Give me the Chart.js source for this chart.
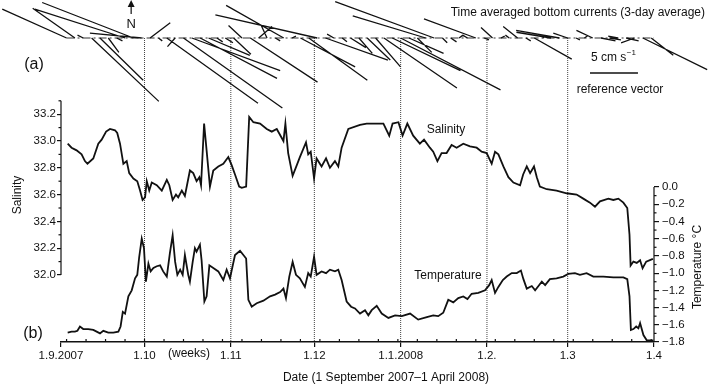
<!DOCTYPE html>
<html>
<head>
<meta charset="utf-8">
<script src="https://cdn.jsdelivr.net/npm/chart.js@4.4.0/dist/chart.umd.min.js"></script>
<style>
  html, body { margin: 0; padding: 0; background: #fff; }
</style>
</head>
<body>
<canvas id="myChart" width="708" height="384"></canvas>
<script>
/* data */

// x axis: days since 1 September 2007
const monthDays = [0, 30, 61, 91, 122, 153, 182, 213];
const monthLabels = ['1.9.2007', '1.10', '1.11', '1.12', '1.1.2008', '1.2.', '1.3', '1.4'];

const salTicks = [32.0, 32.2, 32.4, 32.6, 32.8, 33.0, 33.2];
const tempTicks = [-1.8, -1.6, -1.4, -1.2, -1.0, -0.8, -0.6, -0.4, -0.2, 0.0];

const salDays = [2.4, 3.8, 5.6, 7.4, 8.6, 9.5, 11.6, 13.4, 14.6, 16.2, 17.6, 19.4, 20.2, 21.2, 22.4, 23.6,
  24.5, 26.0, 27.4, 28.4, 29.3, 30.2, 30.8, 31.7, 32.6, 34.4, 36.2, 38.0, 38.9, 40.1, 41.3, 42.1, 43.4,
  44.5, 46.3, 47.5, 48.7, 49.7, 50.3, 51.4, 52.3, 53.5, 54.7, 56.5, 58.3, 60.1, 61.3, 62.5, 64.0, 64.9,
  66.5, 67.6, 69.1, 71.5, 73.9, 75.7, 77.5, 79.9, 80.6, 81.6, 83.2, 84.7, 85.8, 88.0, 88.8, 89.7, 90.9,
  91.8, 93.6, 95.2, 96.6, 98.4, 99.6, 100.8, 103.2, 107.4, 109.8, 112.2, 115.8, 117.9, 119.1, 121.2,
  122.7, 124.4, 126.5, 128.9, 130.4, 132.5, 133.7, 135.2, 136.7, 138.5, 140.3, 142.1, 144.5, 146.9,
  149.3, 151.1, 152.9, 154.7, 155.9, 157.1, 158.9, 160.7, 162.5, 164.9, 166.0, 167.3, 168.5, 169.9,
  170.9, 172.0, 174.5, 178.0, 181.6, 185.2, 187.6, 190.0, 191.8, 193.6, 196.6, 198.4, 200.2, 202.0,
  203.4, 204.2, 204.6, 205.6, 206.8, 208.0, 208.9, 210.2, 212.6];
const salVals = [32.98, 32.95, 32.93, 32.90, 32.85, 32.83, 32.87, 32.98, 33.01, 33.07, 33.09, 33.08, 33.06,
  32.98, 32.83, 32.85, 32.76, 32.72, 32.70, 32.63, 32.56, 32.58, 32.70, 32.63, 32.69, 32.67, 32.63, 32.71,
  32.67, 32.56, 32.60, 32.58, 32.63, 32.59, 32.78, 32.76, 32.70, 32.73, 32.67, 33.13, 32.93, 32.66, 32.78,
  32.81, 32.83, 32.88, 32.82, 32.75, 32.66, 32.65, 32.66, 33.18, 33.14, 33.13, 33.09, 33.07, 33.09, 33.00,
  33.13, 32.91, 32.74, 32.82, 32.88, 32.99, 32.90, 32.92, 32.72, 32.87, 32.81, 32.87, 32.80, 32.85, 32.81,
  32.95, 33.09, 33.12, 33.13, 33.13, 33.13, 33.04, 33.13, 33.14, 33.04, 33.13, 33.04, 32.98, 33.01, 32.95,
  32.92, 32.85, 32.91, 32.91, 32.97, 32.95, 32.98, 32.96, 32.95, 32.92, 32.91, 32.83, 32.92, 32.90, 32.81,
  32.73, 32.69, 32.67, 32.75, 32.81, 32.76, 32.81, 32.73, 32.66, 32.64, 32.63, 32.61, 32.60, 32.57, 32.54,
  32.51, 32.55, 32.57, 32.56, 32.57, 32.54, 32.50, 32.30, 32.07, 32.10, 32.09, 32.11, 32.05, 32.10, 32.12];

const tempDays = [2.4, 3.8, 5.0, 5.9, 6.8, 8.0, 9.8, 11.6, 12.8, 14.0, 15.2, 17.0, 18.8, 20.6, 21.4, 22.2,
  23.0, 24.2, 25.4, 26.6, 27.4, 28.1, 29.0, 29.8, 30.5, 31.4, 32.2, 33.2, 34.4, 35.6, 36.7, 38.0, 39.1,
  40.1, 41.0, 41.8, 42.8, 43.7, 44.5, 45.7, 46.3, 47.3, 48.1, 48.7, 49.9, 50.5, 51.5, 52.3, 53.3, 54.7,
  56.5, 58.3, 59.5, 60.7, 62.5, 64.3, 66.5, 67.3, 68.5, 70.3, 72.7, 75.1, 76.9, 78.7, 79.9, 80.8, 82.0,
  83.2, 84.4, 85.8, 87.6, 88.8, 89.7, 90.9, 91.8, 93.6, 95.2, 96.6, 98.4, 99.6, 100.8, 102.6, 104.2,
  105.6, 107.4, 109.2, 110.4, 111.6, 113.4, 115.2, 117.6, 120.0, 122.4, 125.4, 128.3, 131.4, 133.7,
  135.5, 137.3, 139.1, 140.9, 142.7, 144.5, 146.0, 147.5, 149.9, 152.3, 153.8, 154.7, 155.9, 157.1,
  158.7, 160.1, 161.9, 163.7, 165.2, 166.1, 167.3, 169.1, 170.3, 171.5, 172.7, 173.9, 175.6, 178.0,
  180.4, 182.2, 184.6, 186.4, 188.8, 191.2, 194.8, 198.4, 202.0, 203.4, 204.2, 204.7, 205.6, 206.6,
  207.4, 208.0, 209.2, 210.4, 212.8];
const tempVals = [-1.69, -1.68, -1.68, -1.67, -1.62, -1.65, -1.65, -1.66, -1.68, -1.70, -1.67, -1.69, -1.69,
  -1.68, -1.62, -1.45, -1.47, -1.27, -1.20, -1.06, -1.02, -0.81, -0.60, -0.71, -1.10, -0.89, -0.98, -0.94,
  -0.92, -0.91, -0.98, -1.04, -0.77, -0.56, -0.87, -1.02, -0.96, -1.02, -0.79, -1.02, -1.10, -0.87, -0.71,
  -0.75, -0.67, -0.85, -1.33, -1.27, -0.91, -0.94, -0.98, -1.08, -0.96, -1.06, -0.79, -0.74, -0.83, -1.31,
  -1.39, -1.35, -1.32, -1.27, -1.25, -1.22, -1.18, -1.29, -1.04, -0.87, -1.02, -1.06, -1.16, -1.00, -1.04,
  -0.81, -1.02, -0.98, -1.00, -0.96, -0.98, -0.96, -1.08, -1.33, -1.39, -1.41, -1.47, -1.43, -1.49, -1.43,
  -1.38, -1.47, -1.52, -1.49, -1.50, -1.47, -1.54, -1.51, -1.49, -1.50, -1.46, -1.31, -1.34, -1.29, -1.27,
  -1.30, -1.24, -1.23, -1.20, -1.14, -1.08, -1.23, -1.16, -1.08, -1.04, -1.00, -1.00, -0.97, -1.07, -1.18,
  -1.15, -1.20, -1.15, -1.10, -1.14, -1.07, -1.06, -1.04, -1.01, -1.00, -1.02, -1.00, -1.04, -1.04, -1.05,
  -1.05, -1.07, -1.27, -1.66, -1.65, -1.62, -1.64, -1.58, -1.72, -1.78, -1.78];

// 3-day averaged bottom currents, east (u) and north (v) components in cm/s
const stickDays = [2, 5, 8, 11, 14, 17, 20, 23, 26, 29, 32, 35, 38, 41, 44, 47, 50, 53, 56, 59, 62, 65,
  68, 71, 74, 77, 80, 83, 86, 89, 92, 95, 98, 101, 104, 107, 110, 113, 116, 119, 122, 125, 128, 131, 134,
  137, 140, 143, 146, 149, 152, 155, 158, 161, 164, 167, 170, 173, 176, 179, 182, 185, 188, 191, 194, 197,
  200, 203, 206, 209, 212];
const stickU = [-6.7, -4.4, -0.6, 7.0, 4.5, 1.1, 0.6, -9.4, -9.5, -5.4, 2.1, 0.4, 9.5, -0.8, 10.3, 9.2,
  8.0, 4.3, 0.6, 0.8, 1.8, -1.4, 7.0, 1.4, -0.6, 0.5, -6.0, 0.4, 5.7, 6.1, -10.6, 6.5, -0.7, 0.5, 1.6,
  1.4, 2.4, 2.6, 7.6, 7.1, 10.4, 3.6, 1.5, -7.6, -10.3, 0.5, 0.6, 0.4, -0.5, -5.4, 0.5, -1.2, 0.4, -0.4,
  -1.5, 0.5, 3.9, 0.3, -3.6, -4.5, -1.5, 0.4, 0.3, -1.7, 1.5, 1.2, -1.0, 1.3, -1.4, 6.7, 2.3];
const stickV = [3.0, 3.1, 0.3, -6.6, -4.4, -1.5, -0.3, 3.0, 3.7, 0.5, 1.6, -0.3, -6.8, -0.9, -7.3, -3.4,
  -4.2, -1.8, -0.4, -0.5, -1.7, 1.3, -4.6, 1.2, 1.3, -0.3, 3.4, 0.2, -3.0, -4.4, 2.4, -2.3, 0.4, -0.4,
  -1.0, -1.6, -2.3, -3.0, -5.2, -3.4, -5.4, -1.6, -1.5, 2.3, 3.8, -0.5, -0.4, 0.3, 0.3, 2.0, -0.2, 1.1,
  0.2, 0.3, 1.2, -0.3, -2.2, 0.2, 0.6, 0.8, 0.5, -0.2, 0.2, 0.8, -0.3, -0.2, 0.2, -0.3, -0.5, -3.3, -1.8];

const refSpeed = 5; // cm/s reference vector
const refDay = 190;
const refLevel = -3.65;

/* scale setup */

// the stick panel shares the day axis; 1 cm/s is drawn as 3.448 days wide
const DAYS_PER_CMS = 3.448;
const YV_MIN = -31.667, YV_MAX = 2.917;

const stickPts = [];
stickDays.forEach(function (d, i) {
  stickPts.push({ x: d, y: 0 }, { x: d + stickU[i] * DAYS_PER_CMS, y: stickV[i] }, { x: d, y: null });
});

const monthLinePts = [];
monthDays.slice(1, -1).forEach(function (d) {
  monthLinePts.push({ x: d, y: 0 }, { x: d, y: YV_MIN }, { x: d, y: null });
});

const ink = '#111';
Chart.defaults.font.family = '"Liberation Sans", Arial, sans-serif';
Chart.defaults.font.size = 11.5;
Chart.defaults.color = ink;

function strokeLine(ctx, x1, y1, x2, y2) {
  ctx.beginPath();
  ctx.moveTo(x1, y1);
  ctx.lineTo(x2, y2);
  ctx.stroke();
}

// axis lines, minor ticks and text labels
const decor = {
  id: 'decor',
  afterDatasetsDraw(chart) {
    const ctx = chart.ctx;
    const { x, ySal, yTemp, yv } = chart.scales;
    const left = chart.chartArea.left, right = chart.chartArea.right, bottom = chart.chartArea.bottom;
    ctx.save();
    ctx.strokeStyle = ink;
    ctx.fillStyle = ink;
    ctx.lineWidth = 1.2;

    // salinity axis
    strokeLine(ctx, left, ySal.getPixelForValue(32.0), left, ySal.getPixelForValue(33.3));
    for (let v = 32.1; v < 33.35; v += 0.2) {
      const py = ySal.getPixelForValue(v);
      strokeLine(ctx, left - 2.5, py, left, py);
    }
    // temperature axis
    strokeLine(ctx, right, yTemp.getPixelForValue(-1.8), right, yTemp.getPixelForValue(0));
    for (let v = -1.7; v < 0; v += 0.2) {
      const py = yTemp.getPixelForValue(v);
      strokeLine(ctx, right, py, right + 2.5, py);
    }
    // weekly ticks
    for (let d = 2; d < 213; d += 7) {
      const px = x.getPixelForValue(d);
      strokeLine(ctx, px, bottom, px, bottom - 3);
    }

    // north arrow
    const nx = x.getPixelForValue(25.2);
    strokeLine(ctx, nx, 14, nx, 5);
    ctx.beginPath();
    ctx.moveTo(nx, 0);
    ctx.lineTo(nx - 3.5, 7);
    ctx.lineTo(nx + 3.5, 7);
    ctx.closePath();
    ctx.fill();

    ctx.textBaseline = 'middle';
    ctx.textAlign = 'center';
    ctx.font = '13px "Liberation Sans", Arial, sans-serif';
    ctx.fillText('N', nx, 24);

    ctx.font = '16px "Liberation Sans", Arial, sans-serif';
    ctx.fillText('(a)', 34, 65);
    ctx.fillText('(b)', 33, 334);

    ctx.font = '12px "Liberation Sans", Arial, sans-serif';
    ctx.textAlign = 'right';
    ctx.fillText('Time averaged bottom currents (3-day average)', 705, 13);
    ctx.textAlign = 'center';
    ctx.fillText('reference vector', 620, 90);
    ctx.fillText('Salinity', 446, 130);
    ctx.fillText('Temperature', 448, 276);
    ctx.fillText('(weeks)', 189, 354);
    ctx.fillText('Date (1 September 2007\u20131 April 2008)', 386, 378);

    // reference vector label
    const rx = x.getPixelForValue(refDay);
    const ry = yv.getPixelForValue(refLevel);
    ctx.textAlign = 'left';
    ctx.fillText('5 cm s', rx + 1, ry - 15);
    const w = ctx.measureText('5 cm s').width;
    ctx.font = '8px "Liberation Sans", Arial, sans-serif';
    ctx.fillText('\u22121', rx + 1 + w + 0.5, ry - 20);

    // rotated axis titles
    ctx.font = '12px "Liberation Sans", Arial, sans-serif';
    ctx.textAlign = 'center';
    ctx.save();
    ctx.translate(18, 195);
    ctx.rotate(-Math.PI / 2);
    ctx.fillText('Salinity', 0, 0);
    ctx.restore();
    ctx.save();
    ctx.translate(698, 267);
    ctx.rotate(-Math.PI / 2);
    ctx.fillText('Temperature \u00B0C', 0, 0);
    ctx.restore();

    ctx.restore();
  }
};

const ctx = document.getElementById('myChart').getContext('2d');

const chart = new Chart(ctx, {
  type: 'line',
  data: {
    datasets: [{
      label: 'Salinity',
      data: salDays.map(function (d, i) { return { x: d, y: salVals[i] }; }),
      yAxisID: 'ySal',
      borderColor: ink,
      borderWidth: 1.8,
      pointRadius: 0,
    },
    {
      label: 'Temperature',
      data: tempDays.map(function (d, i) { return { x: d, y: tempVals[i] }; }),
      yAxisID: 'yTemp',
      borderColor: ink,
      borderWidth: 1.8,
      pointRadius: 0,
    },
    {
      label: 'Currents',
      data: stickPts,
      yAxisID: 'yv',
      borderColor: ink,
      borderWidth: 1.3,
      pointRadius: 0,
      clip: false,
    },
    {
      label: 'Reference vector',
      data: [{ x: refDay, y: refLevel }, { x: refDay + refSpeed * DAYS_PER_CMS, y: refLevel }],
      yAxisID: 'yv',
      borderColor: ink,
      borderWidth: 1.4,
      pointRadius: 0,
    },
    {
      label: 'Baseline',
      data: [{ x: 2, y: 0 }, { x: 213, y: 0 }],
      yAxisID: 'yv',
      borderColor: '#333',
      borderWidth: 1.2,
      borderDash: [8, 3, 2, 3],
      pointRadius: 0,
    },
    {
      label: 'Months',
      data: monthLinePts,
      yAxisID: 'yv',
      borderColor: '#444',
      borderWidth: 1,
      borderDash: [1, 1],
      pointRadius: 0,
    }]
  },
  options: {
    responsive: false,
    animation: false,
    events: [],
    layout: { padding: { top: 10, bottom: 0, left: 0, right: 0 } },
    plugins: { legend: { display: false }, tooltip: { enabled: false } },
    scales: {
      x: {
        type: 'linear',
        min: 0,
        max: 213,
        afterBuildTicks: function (s) { s.ticks = monthDays.map(function (v) { return { value: v }; }); },
        afterFit: function (s) { s.height = 42; },
        ticks: {
          autoSkip: false,
          maxRotation: 0,
          padding: 2,
          callback: function (v) { return monthLabels[monthDays.indexOf(v)]; },
        },
        grid: { drawOnChartArea: false, tickLength: 5, color: ink, lineWidth: 1.2 },
        border: { display: true, color: ink, width: 1.4 },
      },
      ySal: {
        type: 'linear',
        position: 'left',
        min: 31.5,
        max: 33.9776,
        afterBuildTicks: function (s) { s.ticks = salTicks.map(function (v) { return { value: v }; }); },
        afterFit: function (s) { s.width = 61; },
        ticks: { padding: 1, callback: function (v) { return v.toFixed(1); } },
        grid: { drawOnChartArea: false, tickLength: 4, color: ink, lineWidth: 1.2 },
        border: { display: false },
      },
      yTemp: {
        type: 'linear',
        position: 'right',
        min: -1.8,
        max: 2.056,
        afterBuildTicks: function (s) { s.ticks = tempTicks.map(function (v) { return { value: v }; }); },
        afterFit: function (s) { s.width = 54; },
        ticks: {
          padding: 3,
          callback: function (v) { return Math.abs(v) < 1e-9 ? '0.0' : '\u2212' + Math.abs(v).toFixed(1); },
        },
        grid: { drawOnChartArea: false, tickLength: 5, color: ink, lineWidth: 1.2 },
        border: { display: false },
      },
      yv: {
        type: 'linear',
        display: false,
        min: YV_MIN,
        max: YV_MAX,
      }
    }
  },
  plugins: [decor],
});
</script>
</body>
</html>
